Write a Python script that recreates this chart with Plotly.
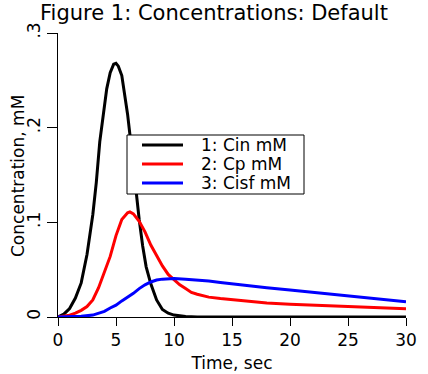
import plotly.graph_objects as go

# Time points (sec) and concentrations (mM)
t_cin = [0, 0.5, 1.0, 1.5, 2.0, 2.5, 3.0, 3.3, 3.6, 3.9, 4.2, 4.5, 4.8, 5.0, 5.2, 5.5, 5.8, 6.0, 6.3, 6.6,
         7.0, 7.3, 7.6, 8.0, 8.5, 9.0, 9.5, 10, 11, 12, 15, 20, 25, 30]
cin = [0, 0.003, 0.009, 0.02, 0.036, 0.066, 0.108, 0.142, 0.185, 0.214, 0.241, 0.258, 0.267, 0.268, 0.265,
       0.255, 0.233, 0.214, 0.182, 0.145, 0.103, 0.075, 0.053, 0.035, 0.018, 0.008, 0.004, 0.002, 0.0005,
       0, 0, 0, 0, 0]

t_cp = [0, 0.5, 1.0, 1.5, 2.0, 2.5, 3.0, 3.5, 4.0, 4.5, 5.0, 5.5, 6.0, 6.2, 6.5, 7.0, 7.5, 8.0, 8.5, 9.0,
        9.5, 10, 10.5, 11, 11.5, 12, 13, 14, 16, 18, 20, 22, 24, 26, 28, 30]
cp = [0, 0.0008, 0.002, 0.004, 0.007, 0.011, 0.018, 0.031, 0.047, 0.064, 0.086, 0.103, 0.110, 0.111,
      0.109, 0.101, 0.090, 0.076, 0.065, 0.054, 0.045, 0.039, 0.034, 0.030, 0.026, 0.024, 0.021, 0.0195,
      0.017, 0.0148, 0.0135, 0.0125, 0.0115, 0.0107, 0.0098, 0.0088]

t_cisf = [0, 1, 2, 3, 3.5, 4, 4.5, 5, 5.5, 6, 6.5, 7, 7.5, 8, 8.5, 9, 10, 11, 12, 13, 14, 16, 18, 20,
          22, 24, 26, 28, 30]
cisf = [0, 0.0002, 0.0007, 0.002, 0.0036, 0.006, 0.0095, 0.0125, 0.017, 0.021, 0.025, 0.030, 0.034,
        0.037, 0.039, 0.040, 0.0407, 0.040, 0.0392, 0.038, 0.0365, 0.0335, 0.031, 0.0285, 0.026, 0.0235,
        0.021, 0.0185, 0.016]

names = ["1: Cin mM", "2: Cp mM", "3: Cisf mM"]
colors = ["black", "red", "blue"]

x_ticks = [0, 5, 10, 15, 20, 25, 30]
y_ticks = [0, 0.1, 0.2, 0.3]
y_ticklabels = ["0", ".1", ".2", ".3"]

FONT = "DejaVu Sans"
W, H = 428, 374
ML, MR, MT, MB = 58, 22, 33, 57
PW, PH = W - ML - MR, H - MT - MB


def px_to_paper(px, py):
    return (px - ML) / PW, (H - MB - py) / PH


fig = go.Figure()
for tx, vy, nm, col in zip([t_cin, t_cp, t_cisf], [cin, cp, cisf], names, colors):
    fig.add_trace(go.Scatter(x=tx, y=vy, mode="lines", name=nm, showlegend=False,
                             line=dict(color=col, width=3)))

# manual boxed legend
bx0, by0 = px_to_paper(127, 194)
bx1, by1 = px_to_paper(304, 135)
shapes = [dict(type="rect", xref="paper", yref="paper", x0=bx0, y0=by0, x1=bx1, y1=by1,
               line=dict(color="black", width=1), fillcolor="white", layer="above")]
annotations = []
row_y = [145, 164, 183]
for nm, col, ry in zip(names, colors, row_y):
    lx0, ly = px_to_paper(142, ry)
    lx1, _ = px_to_paper(183, ry)
    shapes.append(dict(type="line", xref="paper", yref="paper", x0=lx0, x1=lx1, y0=ly, y1=ly,
                       line=dict(color=col, width=3), layer="above"))
    tx0, _ = px_to_paper(199, ry)
    annotations.append(dict(xref="paper", yref="paper", x=tx0, y=ly, xanchor="left", yanchor="middle",
                            text=nm, showarrow=False,
                            font=dict(size=17, family=FONT, color="black")))

# y-axis title as rotated annotation
ytx, yty = px_to_paper(18, 176)
annotations.append(dict(xref="paper", yref="paper", x=ytx, y=yty, xanchor="center", yanchor="middle",
                        text="Concentration, mM", textangle=-90, showarrow=False,
                        font=dict(size=17, family=FONT, color="black")))

fig.update_layout(
    width=W, height=H,
    margin=dict(l=ML, r=MR, t=MT, b=MB),
    paper_bgcolor="white", plot_bgcolor="white",
    font=dict(family=FONT, color="black", size=17),
    title=dict(text="Figure 1: Concentrations: Default", x=0.5, xanchor="center",
               y=1 - 13 / H, yanchor="middle", font=dict(size=21, family=FONT, color="black")),
    showlegend=False,
    shapes=shapes,
    annotations=annotations,
)
fig.update_xaxes(range=[0, 30], tickvals=x_ticks, ticks="outside", ticklen=8, tickcolor="black",
                 showline=True, linecolor="black", linewidth=1, showgrid=False, zeroline=False,
                 automargin=False,
                 title=dict(text="Time, sec", font=dict(size=17), standoff=7),
                 tickfont=dict(size=17))
fig.update_yaxes(range=[0, 0.3], tickvals=y_ticks, ticktext=y_ticklabels, tickangle=-90,
                 ticks="outside", ticklen=10, tickcolor="black",
                 showline=True, linecolor="black", linewidth=1, showgrid=False, zeroline=False,
                 automargin=False,
                 tickfont=dict(size=17))

fig.write_html("out.html", config={"displayModeBar": False},
               post_script="document.body.style.margin='0';")
